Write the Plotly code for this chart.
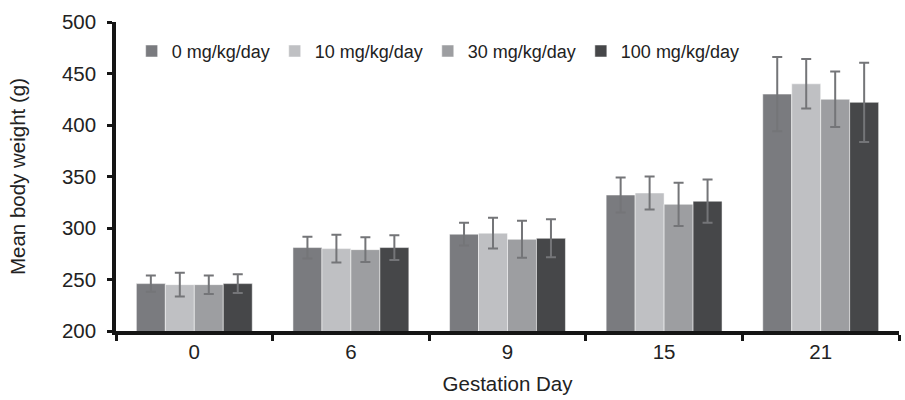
import plotly.graph_objects as go

days = ["0", "6", "9", "15", "21"]
series_names = ["0 mg/kg/day", "10 mg/kg/day", "30 mg/kg/day", "100 mg/kg/day"]
mean_0 = [246, 281, 294, 332, 430]
mean_10 = [245, 280, 295, 334, 440]
mean_30 = [245, 279, 289, 323, 425]
mean_100 = [246, 281, 290, 326, 422]
sd_0 = [8, 10.5, 11, 17, 36]
sd_10 = [11.5, 13.5, 15, 16, 24]
sd_30 = [9, 12, 18, 21, 27]
sd_100 = [9, 12, 18.5, 21, 38.5]
colors = ["#7a7b7f", "#bfc0c3", "#9d9ea1", "#464749"]

means = [mean_0, mean_10, mean_30, mean_100]
sds = [sd_0, sd_10, sd_30, sd_100]

fig = go.Figure()
for name, m, s, c in zip(series_names, means, sds, colors):
    fig.add_trace(go.Bar(
        x=days, y=m, name=name,
        marker=dict(color=c, line=dict(color="white", width=0.5)),
        error_y=dict(type="data", array=s, visible=True, color="#747578", thickness=2, width=5),
    ))

fig.update_layout(
    width=905, height=400,
    margin=dict(l=116, r=6, t=22, b=69),
    paper_bgcolor="white", plot_bgcolor="white",
    barmode="group", bargap=0.26, bargroupgap=0,
    font=dict(family="Liberation Sans, Arial, sans-serif", size=20.5, color="#222"),
    legend=dict(orientation="h", x=0.02, y=0.965, xanchor="left", yanchor="top",
                font=dict(size=18), itemwidth=30, tracegroupgap=0,
                bgcolor="rgba(0,0,0,0)", traceorder="normal"),
    xaxis=dict(
        type="category", showline=True, linecolor="#151515", linewidth=3.5,
        ticks="outside", tickson="boundaries", ticklen=6, tickwidth=3, tickcolor="#151515",
        showgrid=False, zeroline=False,
        title=dict(text="Gestation Day", font=dict(size=20.5), standoff=15),
        tickfont=dict(size=20.5),
    ),
    yaxis=dict(
        range=[200, 500], tickvals=[200, 250, 300, 350, 400, 450, 500],
        showline=True, linecolor="#151515", linewidth=3.5,
        ticks="outside", ticklen=5, tickwidth=3, tickcolor="#151515",
        ticklabelstandoff=7,
        showgrid=False, zeroline=False,
        title=dict(text="Mean body weight (g)", font=dict(size=20.5), standoff=32),
        tickfont=dict(size=20.5),
    ),
)

fig.write_html("out.html")
